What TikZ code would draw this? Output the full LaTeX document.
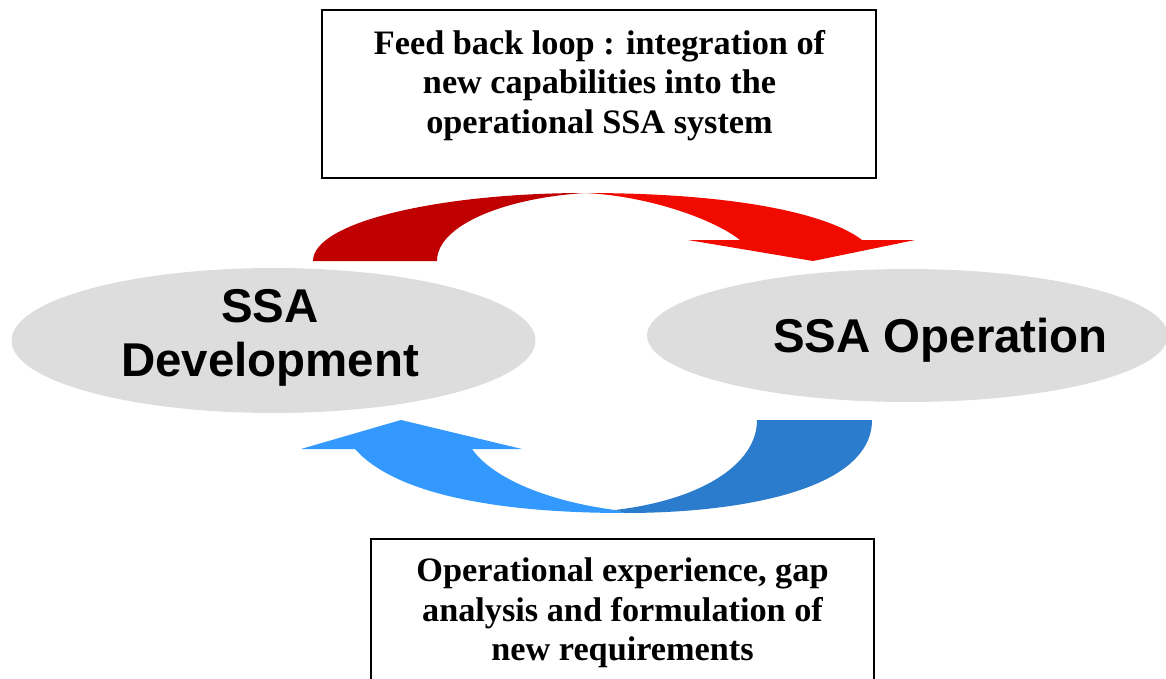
\documentclass[tikz,border=0pt]{standalone}
\usepackage{fontspec}
\usepackage{xcolor}
\usetikzlibrary{shapes.geometric}
\newfontfamily\ovalfont{Liberation Sans}
\newfontfamily\lblfont{Liberation Serif}
\definecolor{darkred}{HTML}{C00000}
\definecolor{brightred}{HTML}{F00A00}
\definecolor{lightblue}{HTML}{3399FF}
\definecolor{darkblue}{HTML}{2B7CCC}
\definecolor{ovalgray}{HTML}{DDDDDD}

\begin{document}
\begin{tikzpicture}[x=0.02cm,y=-0.02cm,
  oval/.style={ellipse,fill=ovalgray,inner sep=0pt},
  ovaltext/.style={inner sep=0pt,align=center,font=\ovalfont\bfseries\fontsize{27}{31}\selectfont},
  txtbox/.style={draw=black,line width=0.9pt,inner sep=0pt},
  boxtext/.style={inner sep=0pt,align=center,font=\lblfont\bfseries\fontsize{19.5}{22.4}\selectfont}]
\clip (0,0) rectangle (1166,679);
\node [oval,minimum width=10.48cm,minimum height=2.9cm] (devoval) at (273.5,340.5) {};
\node [oval,minimum width=10.42cm,minimum height=2.66cm] (opoval) at (907.5,335.5) {};
\node [ovaltext] (devtext) at (270,338) {SSA\\Development};
\node [ovaltext] (optext) at (940.5,340.5) {SSA Operation};
\node [txtbox,minimum width=11.08cm,minimum height=3.36cm] (fbbox) at (599,94) {};
\node [boxtext] (fbtext) at (599.5,85.5) {Feed back loop : integration of\\new capabilities into the\\operational SSA system};
\node [txtbox,minimum width=10.06cm,minimum height=3.22cm] (opbox) at (622.5,619.5) {};
\node [boxtext] (exptext) at (622.5,613) {Operational experience, gap\\analysis and formulation of\\new requirements};
\fill [darkred] (313,261) .. controls (313,222) and (440,193) .. (585,193)
  .. controls (505,198) and (437,225) .. (437,261) -- cycle;
\fill [brightred] (585,193) .. controls (740,193) and (830,215) .. (862,240)
  -- (915,240) -- (813,261) -- (688,240) -- (740,240)
  .. controls (715,220) and (650,196) .. (585,193) -- cycle;
\fill [lightblue] (355,449) .. controls (400,500) and (520,513) .. (625,513)
  -- (615,510) .. controls (540,500) and (490,475) .. (472,449)
  -- (522,449) -- (401,420) -- (301,449) -- cycle;
\fill [darkblue] (757,420) -- (872,420) .. controls (872,490) and (740,513) .. (625,513)
  -- (615,510) .. controls (700,500) and (757,465) .. (757,420) -- cycle;
\end{tikzpicture}
\end{document}
